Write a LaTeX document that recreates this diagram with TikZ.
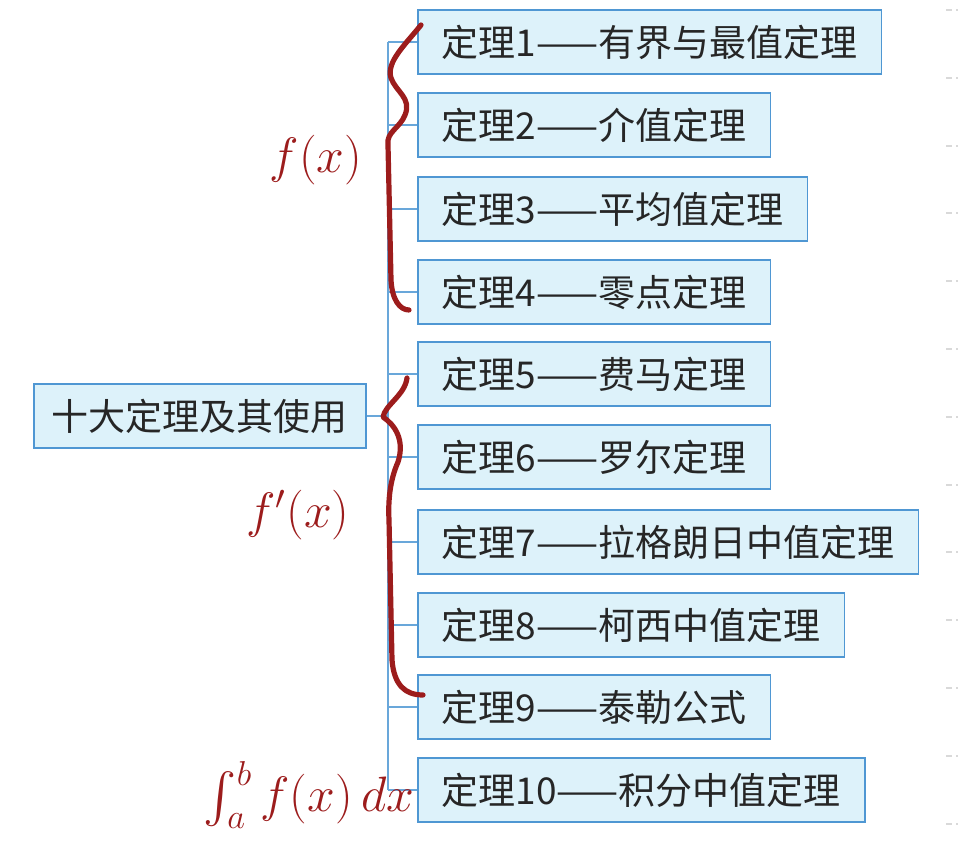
\documentclass[tikz,border=0pt]{standalone}
\usepackage{amsmath}
\usepackage{fontspec}
\setmainfont{Noto Sans CJK SC}
\usetikzlibrary{positioning}

\definecolor{boxfill}{HTML}{DDF2FA}
\definecolor{boxline}{HTML}{4F97D3}
\definecolor{inkred}{HTML}{9C1C1C}

\begin{document}
\begin{tikzpicture}[x=0.5pt, y=-0.5pt,
			thm/.style={draw=boxline, fill=boxfill, line width=0.9pt, minimum height=32pt, inner xsep=12pt, anchor=west, text=black!85, font=\fontsize{18.5}{20}\selectfont},
			link/.style={draw=boxline!85, line width=0.9pt},
			ink/.style={draw=inkred, line width=2.6pt, line cap=round, line join=round},
			note/.style={text=inkred, font=\fontsize{24}{26}\selectfont}
			]
			\useasboundingbox (0,0) rectangle (958,860);
			
			% root and the ten theorems
			\node[thm, inner xsep=9pt] (root) at (33,416) {十大定理及其使用};
			\foreach \i/\y/\txt in {1/42/有界与最值定理, 2/125/介值定理, 3/209/平均值定理, 4/292/零点定理, 5/374/费马定理, 6/457/罗尔定理, 7/542/拉格朗日中值定理, 8/625/柯西中值定理, 9/707/泰勒公式, 10/790/积分中值定理}
			\node[thm] (t\i) at (417,\y) {定理\i——\txt};
			
			% tree lines
			\coordinate (trunk) at (388,416);
			\draw[link] (root.east) -- (root.east -| trunk);
			\draw[link] (t1.west -| trunk) -- (t10.west -| trunk);
			\foreach \i in {1,...,10}
			\draw[link] (t\i.west -| trunk) -- (t\i.west);
			
			% handwritten braces
			\draw[ink] (421,25) .. controls (405,45) and (386,62) .. (391,78) .. controls (396,92) and (412,98) .. (405,115) .. controls (400,128) and (386,132) .. (388,145) -- (391,280) .. controls (392,300) and (400,310) .. (409,310);
			\draw[ink] (407,378) .. controls (405,395) and (385,405) .. (383,417) .. controls (395,425) and (405,440) .. (398,462) .. controls (390,480) and (388,500) .. (389,520) -- (392,660) .. controls (394,685) and (405,695) .. (423,695);
			
			% handwritten notes
			\node[note] (nf) at (316,160) {$f(x)$};
			\node[note] (nfd) at (298,515) {$f'(x)$};
			\node[note] (nint) at (309,795) {$\int_a^b f(x)\,dx$};
			
			% page marks on the right
			\foreach \k in {0,...,12}
			\draw[gray!30, line width=1pt, dash pattern=on 3pt off 2pt] ({946},{10+67.8*\k}) -- ({958},{10+67.8*\k});
		\end{tikzpicture}
\end{document}
